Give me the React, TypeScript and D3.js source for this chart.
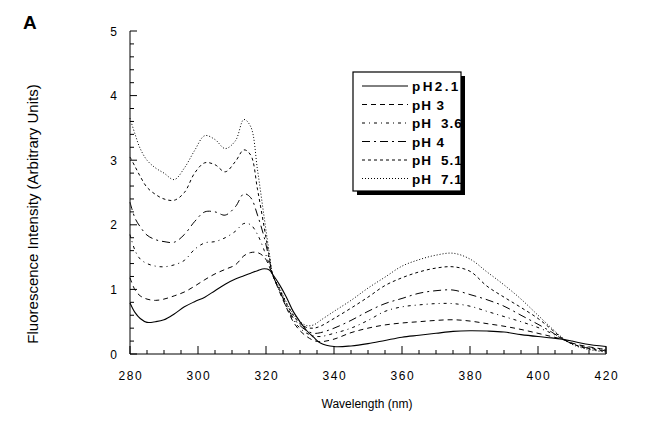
import React from "react";
import * as d3 from "d3";

const wavelengths = [280, 281.5, 283, 285, 287.5, 290, 293, 296, 299, 302, 305, 308, 311, 313.5, 315.5, 317.5, 319.5, 321, 322, 324, 326, 328, 330, 332, 334, 336, 340, 345, 350, 355, 360, 365, 370, 375, 380, 385, 390, 395, 400, 404, 407, 410, 414, 420];

const pH21 = [0.79, 0.64, 0.55, 0.49, 0.5, 0.53, 0.62, 0.73, 0.81, 0.88, 0.98, 1.08, 1.16, 1.21, 1.25, 1.29, 1.32, 1.3, 1.23, 1.07, 0.88, 0.66, 0.5, 0.36, 0.26, 0.17, 0.115, 0.125, 0.16, 0.21, 0.26, 0.29, 0.32, 0.35, 0.36, 0.355, 0.34, 0.3, 0.27, 0.25, 0.23, 0.2, 0.155, 0.115];
const pH3 = [1.18, 0.99, 0.9, 0.85, 0.83, 0.85, 0.9, 0.96, 1.05, 1.15, 1.24, 1.31, 1.38, 1.52, 1.57, 1.57, 1.5, 1.35, 1.22, 0.96, 0.72, 0.5, 0.36, 0.27, 0.21, 0.19, 0.23, 0.33, 0.4, 0.45, 0.48, 0.5, 0.52, 0.53, 0.51, 0.47, 0.43, 0.38, 0.32, 0.27, 0.23, 0.17, 0.12, 0.07];
const pH36 = [1.85, 1.6, 1.47, 1.4, 1.36, 1.35, 1.38, 1.45, 1.62, 1.72, 1.74, 1.8, 1.9, 2.02, 2.0, 1.85, 1.6, 1.38, 1.22, 0.97, 0.73, 0.53, 0.4, 0.32, 0.28, 0.27, 0.32, 0.4, 0.52, 0.66, 0.73, 0.76, 0.78, 0.78, 0.74, 0.66, 0.58, 0.5, 0.41, 0.32, 0.24, 0.16, 0.11, 0.06];
const pH4 = [2.35, 2.1, 1.97, 1.84, 1.77, 1.74, 1.73, 1.85, 2.05, 2.2, 2.2, 2.15, 2.28, 2.48, 2.42, 2.15, 1.8, 1.45, 1.22, 0.98, 0.75, 0.56, 0.44, 0.36, 0.32, 0.33, 0.4, 0.52, 0.66, 0.78, 0.86, 0.94, 0.98, 0.99, 0.92, 0.84, 0.74, 0.6, 0.46, 0.34, 0.24, 0.16, 0.1, 0.05];
const pH51 = [3.05, 2.9, 2.75, 2.58, 2.47, 2.4, 2.38, 2.5, 2.8, 2.96, 2.93, 2.82, 2.98, 3.16, 3.08, 2.55, 1.95, 1.5, 1.22, 1.0, 0.78, 0.6, 0.47, 0.41, 0.4, 0.43, 0.55, 0.71, 0.88, 1.06, 1.18, 1.27, 1.33, 1.35, 1.28, 1.05, 0.88, 0.72, 0.55, 0.38, 0.25, 0.16, 0.09, 0.04];
const pH71 = [3.65, 3.4, 3.18, 3.0, 2.88, 2.8, 2.7, 2.88, 3.15, 3.38, 3.32, 3.18, 3.3, 3.63, 3.52, 2.85, 2.1, 1.55, 1.22, 1.02, 0.8, 0.62, 0.5, 0.44, 0.45, 0.52, 0.66, 0.83, 1.02, 1.19, 1.36, 1.46, 1.53, 1.56, 1.47, 1.27, 1.07, 0.85, 0.6, 0.4, 0.26, 0.15, 0.08, 0.03];

const seriesLabels = ["pH2.1", "pH 3", "pH  3.6", "pH 4", "pH  5.1", "pH  7.1"];
const seriesValues = [pH21, pH3, pH36, pH4, pH51, pH71];
const dashes = ["none", "5,4", "3,4,1,4", "8,4,2,4", "3,3", "1,2"];

const xTicks = [280, 300, 320, 340, 360, 380, 400, 420];
const yTicks = [0, 1, 2, 3, 4, 5];

export default function App() {
  const W = 646, H = 425;
  const x = d3.scaleLinear().domain([280, 420]).range([130, 606]);
  const y = d3.scaleLinear().domain([0, 5]).range([354, 31]);
  const line = d3
    .line<[number, number]>()
    .x((d) => x(d[0]))
    .y((d) => y(d[1]))
    .curve(d3.curveCatmullRom.alpha(0.5));

  const xMinor = d3.range(280, 420.1, 5);
  const yMinor = d3.range(0, 5.01, 0.2);
  const font = "Liberation Sans, Arial, Helvetica, sans-serif";

  const legX = 353, legY = 72, legW = 108, legH = 119;

  return (
    <svg width={W} height={H} style={{ position: "absolute", left: 0, top: 0, background: "#fff" }} fontFamily={font}>
      <rect x={0} y={0} width={W} height={H} fill="#fff" />
      <text x={23} y={29} fontSize={19} fontWeight="bold">A</text>

      {/* axes */}
      <line x1={x(280)} x2={x(280)} y1={y(0)} y2={y(5)} stroke="#000" strokeWidth={1} />
      <line x1={x(280)} x2={x(420)} y1={y(0)} y2={y(0)} stroke="#000" strokeWidth={1} />
      {xMinor.map((v) => {
        const major = Math.abs(v % 20) < 1e-6;
        return <line key={"xt" + v} x1={x(v)} x2={x(v)} y1={y(0)} y2={y(0) - (major ? 8 : 4)} stroke="#000" strokeWidth={1} />;
      })}
      {yMinor.map((v) => {
        const major = Math.abs(v - Math.round(v)) < 1e-6;
        return <line key={"yt" + v} x1={x(280)} x2={x(280) + (major ? 7 : 4)} y1={y(v)} y2={y(v)} stroke="#000" strokeWidth={1} />;
      })}
      {xTicks.map((v) => (
        <text key={"xl" + v} x={x(v) + 0.8} y={380} fontSize={12} letterSpacing={1.5} textAnchor="middle">{v}</text>
      ))}
      {yTicks.map((v) => (
        <text key={"yl" + v} x={118.5} y={y(v) + 4.5} fontSize={12} letterSpacing={1.5} textAnchor="end">{v}</text>
      ))}
      <text x={367} y={408} fontSize={12} textAnchor="middle">Wavelength (nm)</text>
      <text transform={`translate(38,214) rotate(-90)`} fontSize={15} textAnchor="middle">Fluorescence Intensity (Arbitrary Units)</text>

      {/* curves */}
      {seriesValues.map((vals, i) => (
        <path
          key={"s" + i}
          d={line(wavelengths.map((w, j) => [w, vals[j]] as [number, number])) || ""}
          fill="none"
          stroke="#000"
          strokeWidth={i === 0 ? 1.1 : 1}
          strokeDasharray={dashes[i]}
        />
      ))}
      <line x1={x(420)} x2={x(420)} y1={y(pH21[pH21.length - 1])} y2={y(0)} stroke="#000" strokeWidth={1} />

      {/* legend */}
      <rect x={legX + 4} y={legY + 4} width={legW} height={legH} fill="#000" />
      <rect x={legX} y={legY} width={legW} height={legH} fill="#fff" stroke="#000" strokeWidth={1.2} />
      {seriesLabels.map((lab, i) => {
        const ry = legY + 14 + i * 18.5;
        return (
          <g key={"lg" + i}>
            <line x1={362} x2={408} y1={ry} y2={ry} stroke="#000" strokeWidth={1} strokeDasharray={dashes[i]} />
            <text x={412} y={ry + 5} fontSize={13.5} fontWeight="bold" letterSpacing={i === 0 ? 2.4 : 0.9} style={{ whiteSpace: "pre" }}>{lab}</text>
          </g>
        );
      })}
    </svg>
  );
}
